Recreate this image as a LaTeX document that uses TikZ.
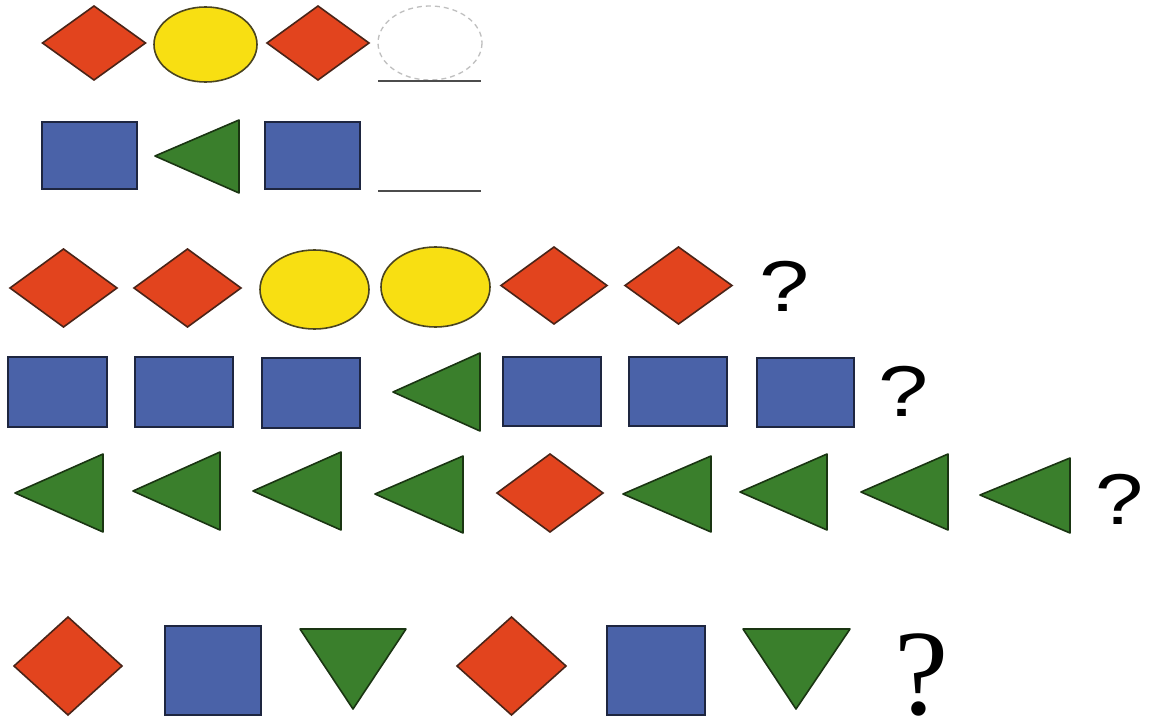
\documentclass[tikz,border=0pt]{standalone}
\usepackage{fontspec}
\setmainfont{Liberation Serif}
\newfontfamily\qsans{Liberation Sans}
\definecolor{redd}{HTML}{E2441E}
\definecolor{redline}{HTML}{4A2418}
\definecolor{yel}{HTML}{F8DF12}
\definecolor{yelline}{HTML}{4A4420}
\definecolor{blu}{HTML}{4A62A8}
\definecolor{bluline}{HTML}{1E2640}
\definecolor{grn}{HTML}{3A7F2C}
\definecolor{grnline}{HTML}{1A3512}
\tikzset{
  dia/.style={fill=redd,draw=redline,line width=1.6pt,line join=miter},
  ell/.style={fill=yel,draw=yelline,line width=1.6pt},
  sq/.style={fill=blu,draw=bluline,line width=1.6pt},
  tri/.style={fill=grn,draw=grnline,line width=1.6pt,line join=round},
  blank/.style={draw=gray!50,dash pattern=on 5pt off 4pt,line width=1.3pt},
  uline/.style={draw=black!70,line width=1.8pt},
  qs/.style={inner sep=0pt,anchor=base,font=\qsans\fontsize{72}{72}\selectfont},
  qr/.style={inner sep=0pt,anchor=base,font=\fontsize{122}{122}\selectfont}
}
\newcommand{\mydiam}[4]{\draw[dia] (#1-#3,#2) -- (#1,#2-#4) -- (#1+#3,#2) -- (#1,#2+#4) -- cycle;}
\begin{document}
\begin{tikzpicture}[x=1pt,y=-1pt]
\useasboundingbox[fill=white] (0,0) rectangle (1151,722);
% Row 1
\mydiam{94}{43}{51.5}{37}
\draw[ell] (205.5,44.5) ellipse [x radius=51.5, y radius=37.5];
\mydiam{318}{43}{51}{37}
\draw[blank] (430,43) ellipse [x radius=52, y radius=37];
\draw[uline] (378,81) -- (481,81);
% Row 2
\draw[sq] (42,122) rectangle (137,189);
\draw[tri] (155,156) -- (239,120) -- (239,193) -- cycle;
\draw[sq] (265,122) rectangle (360,189);
\draw[uline] (378,191) -- (481,191);
% Row 3
\mydiam{63.5}{288}{53.5}{39}
\mydiam{187.5}{288}{53.5}{39}
\draw[ell] (314.5,289.5) ellipse [x radius=54.5, y radius=39.5];
\draw[ell] (435.5,287) ellipse [x radius=54.5, y radius=40];
\mydiam{554}{285.5}{53}{38.5}
\mydiam{678.5}{285.5}{53.5}{38.5}
\node[qs] (q3) at (785,311) {\scalebox{1.25}[1]{?}};
% Row 4
\draw[sq] (8,357) rectangle (107,427);
\draw[sq] (135,357) rectangle (233,427);
\draw[sq] (262,358) rectangle (360,428);
\draw[tri] (393,392) -- (480,353) -- (480,431) -- cycle;
\draw[sq] (503,357) rectangle (601,426);
\draw[sq] (629,357) rectangle (727,426);
\draw[sq] (757,358) rectangle (854,427);
\node[qs] (q4) at (903.5,416) {\scalebox{1.25}[1]{?}};
% Row 5
\draw[tri] (15,493) -- (103,454) -- (103,532) -- cycle;
\draw[tri] (133,491) -- (220,452) -- (220,530) -- cycle;
\draw[tri] (253,491) -- (341,452) -- (341,530) -- cycle;
\draw[tri] (375,494) -- (463,456) -- (463,533) -- cycle;
\mydiam{550}{493}{53}{39}
\draw[tri] (623,494) -- (711,456) -- (711,532) -- cycle;
\draw[tri] (740,492) -- (827,454) -- (827,530) -- cycle;
\draw[tri] (861,492) -- (948,454) -- (948,530) -- cycle;
\draw[tri] (980,495) -- (1070,458) -- (1070,533) -- cycle;
\node[qs] (q5) at (1119.5,524) {\scalebox{1.2}[1]{?}};
% Row 6
\mydiam{68}{666}{54}{49}
\draw[sq] (165,626) rectangle (261,715);
\draw[tri] (300,629) -- (406,629) -- (353,709) -- cycle;
\mydiam{511.5}{666}{54.5}{49}
\draw[sq] (607,626) rectangle (705,715);
\draw[tri] (743,629) -- (850,629) -- (796,709) -- cycle;
\node[qr] (q6) at (922,714) {?};
\end{tikzpicture}
\end{document}
